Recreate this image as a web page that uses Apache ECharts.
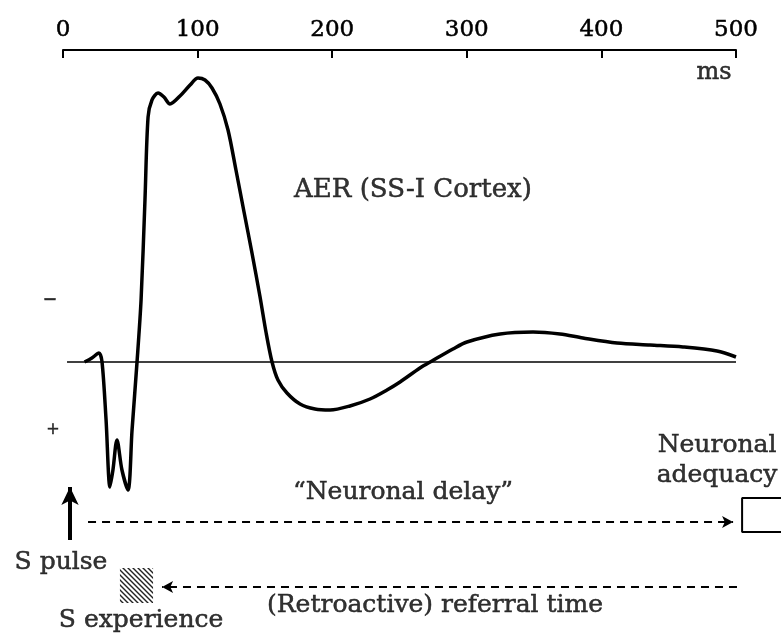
<!DOCTYPE html>
<html>
<head>
<meta charset="utf-8">
<script src="https://cdn.jsdelivr.net/npm/echarts@6/dist/echarts.min.js"></script>
<style>
  html, body { margin: 0; padding: 0; background: #fff; }
  #chart { width: 781px; height: 635px; }
</style>
</head>
<body>
<div id="chart"></div>
<script>
// time axis (ms) and AER amplitude (arbitrary units, negative = upward)
var timeMs = [16, 21.5, 26.7, 29, 32, 34.9, 37.1, 40.1, 43.8, 48.3, 51.3, 55, 58, 60.9, 63.2, 66.1,
  70.6, 75, 79.5, 86.9, 94.4, 100.3, 105.5, 110.7, 116.6, 122.6, 128.5, 134.5, 140.4, 146.4, 150.8,
  155.3, 159.7, 166.4, 176.1, 187.2, 198.4, 213.2, 228.1, 240.7, 250.4, 265.2, 274.1, 289.7, 300.1,
  324.7, 349.2, 369.2, 386.3, 411.6, 436.1, 460.6, 485.9, 500];
var amplitude = [0, -0.4, -0.9, 0, 5.8, 12.5, 10.8, 7.8, 10.8, 12.8, 6.8, 0, -6.2, -16.2, -24.5, -26.2,
  -26.9, -26.5, -25.8, -26.6, -27.7, -28.4, -28.2, -27.4, -25.8, -23.2, -19.2, -15, -10.9, -6.5, -3.0,
  0, 1.8, 3.1, 4.2, 4.7, 4.8, 4.4, 3.7, 2.8, 2.0, 0.6, -0.1, -1.3, -2.0,
  -2.8, -3.0, -2.8, -2.4, -1.9, -1.7, -1.5, -1.1, -0.5];
var tickValues = [0, 100, 200, 300, 400, 500];

// time intervals drawn under the trace
var neuronalDelay = [18.6, 497.8];
var referralTime = [500.7, 73.6];
var pulseTime = 5.2;
var experienceSpan = [42.3, 66.9];
var adequacyStart = 504.5;

var curve = timeMs.map(function (t, i) { return [t, amplitude[i]]; });

var fontFam = 'DejaVu Serif';
var ink = '#000';

// hatch pattern for the "S experience" box
var pat = document.createElement('canvas');
pat.width = 5; pat.height = 5;
var pc = pat.getContext('2d');
pc.strokeStyle = '#222';
pc.lineWidth = 1.4;
pc.beginPath();
pc.moveTo(0, 0); pc.lineTo(5, 5);
pc.moveTo(-1, 4); pc.lineTo(1, 6);
pc.moveTo(4, -1); pc.lineTo(6, 1);
pc.stroke();

var texts = [
  { name: 'AER (SS-I Cortex)', value: [260, -17.2], size: 26 },
  { name: 'ms', value: [483.6, -28.9], size: 24 },
  { name: '\u2013', value: [-9.7, -6.3], size: 26 },
  { name: '+', value: [-7.4, 6.8], size: 16 },
  { name: '\u201CNeuronal delay\u201D', value: [252.6, 13], size: 25 },
  { name: 'Neuronal\nadequacy', value: [485.9, 9.8], size: 25 },
  { name: 'S pulse', value: [-1.5, 20], size: 25 },
  { name: 'S experience', value: [58, 25.8], size: 25 },
  { name: '(Retroactive) referral time', value: [276.4, 24.3], size: 25 }
];

var chart = echarts.init(document.getElementById('chart'));
var option = {
  animation: false,
  backgroundColor: '#fff',
  grid: [
    { left: 63, right: 45, top: 50, bottom: 0 },
    // same scale, wider: room for the marks right of 500 ms
    { left: 63, right: 0, top: 50, bottom: 0 }
  ],
  xAxis: [
    {
      type: 'value',
      gridIndex: 0,
      position: 'top',
      min: 0,
      max: 500,
      interval: 100,
      axisLine: { onZero: false, lineStyle: { color: ink, width: 2 } },
      axisTick: { inside: true, length: 8, lineStyle: { color: ink, width: 2 } },
      axisLabel: {
        color: ink, fontFamily: fontFam, fontSize: 23, margin: 8,
        textBorderColor: ink, textBorderWidth: 0.5,
        formatter: function (v) { return tickValues.indexOf(v) >= 0 ? String(v) : ''; }
      },
      splitLine: { show: false }
    },
    {
      type: 'value',
      gridIndex: 1,
      min: 0,
      max: 533.4,
      show: false
    }
  ],
  yAxis: [
    { type: 'value', gridIndex: 0, inverse: true, min: -31.2, max: 27.3, show: false },
    { type: 'value', gridIndex: 1, inverse: true, min: -31.2, max: 27.3, show: false }
  ],
  series: [
    {
      type: 'line',
      data: [[3, 0], [500, 0]],
      symbol: 'none',
      silent: true,
      lineStyle: { color: ink, width: 1.5 }
    },
    {
      type: 'line',
      data: curve,
      smooth: 0.3,
      symbol: 'none',
      silent: true,
      lineStyle: { color: ink, width: 3.5 }
    },
    {
      type: 'line',
      xAxisIndex: 1,
      yAxisIndex: 1,
      data: [[533.4, 13.6], [adequacyStart, 13.6], [adequacyStart, 17], [533.4, 17]],
      symbol: 'none',
      silent: true,
      lineStyle: { color: ink, width: 2 },
      markLine: {
        silent: true,
        label: { show: false },
        animation: false,
        data: [
          [{ coord: [neuronalDelay[0], 16], symbol: 'none' },
           { coord: [neuronalDelay[1], 16], symbol: 'arrow', symbolSize: [9, 11] }],
          [{ coord: [referralTime[0], 22.5], symbol: 'none' },
           { coord: [referralTime[1], 22.5], symbol: 'arrow', symbolSize: [9, 11] }],
          [{ coord: [pulseTime, 17.8], symbol: 'none', lineStyle: { type: 'solid', width: 4 } },
           { coord: [pulseTime, 12.5], symbol: 'arrow', symbolSize: [13, 18] }]
        ],
        lineStyle: { color: ink, width: 2, type: [8, 6] }
      },
      markArea: {
        silent: true,
        itemStyle: { color: { image: pat, repeat: 'repeat' } },
        data: [[{ coord: [experienceSpan[0], 20.6] }, { coord: [experienceSpan[1], 24.1] }]]
      }
    },
    {
      type: 'scatter',
      xAxisIndex: 1,
      yAxisIndex: 1,
      clip: false,
      silent: true,
      symbolSize: 0,
      data: texts.map(function (t) {
        return {
          name: t.name, value: t.value,
          label: { fontSize: t.size }
        };
      }),
      label: {
        show: true,
        position: 'inside',
        formatter: '{b}',
        color: ink,
        fontFamily: fontFam,
        textBorderColor: ink,
        textBorderWidth: 0.5,
        lineHeight: 30
      }
    }
  ]
};
chart.setOption(option);
</script>
</body>
</html>
